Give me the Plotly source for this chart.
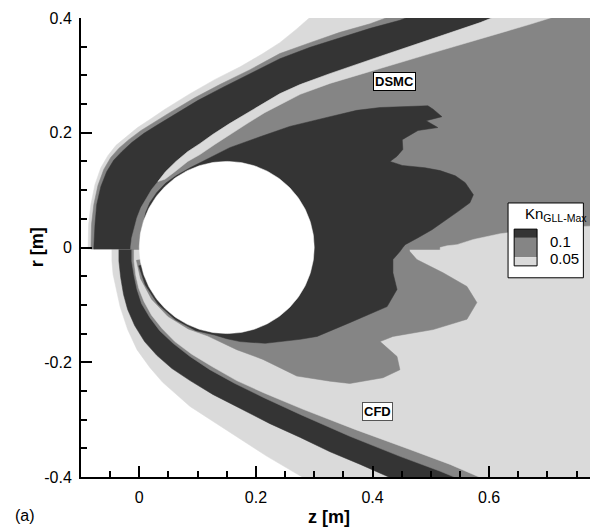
import numpy as np
import plotly.graph_objects as go

# ---------------- data (z [m], r [m]) ----------------
DARK = "#343434"
MED = "#858585"
LIGHT = "#dadada"

# Upper half (DSMC)
A_UP_Z = [-0.088, -0.087, -0.083, -0.076, -0.066, -0.054, -0.040, -0.023, -0.003, 0.018, 0.044, 0.087, 0.130, 0.173, 0.212, 0.241, 0.269, 0.296]
A_UP_R = [0, 0.040, 0.075, 0.110, 0.139, 0.160, 0.178, 0.193, 0.209, 0.223, 0.241, 0.268, 0.293, 0.315, 0.338, 0.357, 0.380, 0.404]

B_UP_Z = [-0.083, -0.082, -0.078, -0.071, -0.061, -0.049, -0.035, -0.018, 0.003, 0.025, 0.052, 0.095, 0.138, 0.190, 0.241, 0.293, 0.344, 0.396, 0.439]
B_UP_R = [0, 0.040, 0.075, 0.108, 0.136, 0.157, 0.173, 0.188, 0.204, 0.218, 0.235, 0.261, 0.284, 0.310, 0.338, 0.357, 0.375, 0.390, 0.406]

C_UP_Z = [-0.078, -0.076, -0.073, -0.066, -0.056, -0.044, -0.030, -0.013, 0.008, 0.030, 0.058, 0.100, 0.143, 0.193, 0.241, 0.293, 0.344, 0.396, 0.447, 0.473]
C_UP_R = [0, 0.040, 0.075, 0.106, 0.132, 0.152, 0.167, 0.183, 0.199, 0.213, 0.230, 0.256, 0.279, 0.305, 0.329, 0.349, 0.366, 0.382, 0.396, 0.406]

G_UP_Z = [-0.015, -0.013, -0.009, -0.004, 0.003, 0.011, 0.021]
G_UP_R = [0, 0.017, 0.035, 0.052, 0.070, 0.085, 0.101]

D_UP_Z = [0.032, 0.045, 0.063, 0.083, 0.104, 0.126, 0.155, 0.185, 0.215, 0.241, 0.276, 0.327, 0.413, 0.499, 0.585, 0.619]
D_UP_R = [0.115, 0.132, 0.150, 0.167, 0.181, 0.197, 0.216, 0.234, 0.253, 0.268, 0.284, 0.303, 0.333, 0.363, 0.392, 0.406]

E_UP_Z = [0.032, 0.044, 0.061, 0.083, 0.104, 0.130, 0.155, 0.185, 0.215, 0.241, 0.276, 0.327, 0.413, 0.499, 0.585, 0.670, 0.730]
E_UP_R = [0.115, 0.119, 0.132, 0.150, 0.162, 0.180, 0.197, 0.216, 0.235, 0.249, 0.267, 0.286, 0.312, 0.338, 0.364, 0.389, 0.408]

L_UP_Z = [0.516, 0.528, 0.545, 0.573, 0.619, 0.675, 0.722, 0.790]
L_UP_R = [0, 0.003, 0.005, 0.014, 0.024, 0.031, 0.035, 0.038]

F_UP_Z = [0.006, 0.011, 0.018, 0.030, 0.045, 0.063, 0.087, 0.121, 0.155, 0.207,
          0.258, 0.327, 0.373, 0.413, 0.470, 0.495, 0.504, 0.519, 0.492, 0.512,
          0.478, 0.451, 0.452, 0.442, 0.430, 0.451, 0.490, 0.516, 0.542, 0.559,
          0.573, 0.567, 0.547, 0.528, 0.502, 0.478, 0.456, 0.452]
F_UP_R = [0.038, 0.061, 0.078, 0.096, 0.112, 0.125, 0.139, 0.157, 0.174, 0.193,
          0.211, 0.228, 0.239, 0.244, 0.246, 0.247, 0.241, 0.228, 0.221, 0.209,
          0.204, 0.188, 0.171, 0.159, 0.150, 0.143, 0.139, 0.134, 0.125, 0.113,
          0.092, 0.078, 0.063, 0.049, 0.031, 0.017, 0.005, 0]

# Lower half (CFD)
A_LO_Z = [-0.047, -0.047, -0.045, -0.040, -0.033, -0.020, -0.004, 0.018, 0.040, 0.087, 0.155, 0.219, 0.281, 0.301]
A_LO_R = [0, -0.024, -0.047, -0.073, -0.103, -0.143, -0.178, -0.209, -0.235, -0.277, -0.322, -0.364, -0.401, -0.415]

C_LO_Z = [-0.035, -0.035, -0.032, -0.027, -0.020, -0.008, 0.009, 0.030, 0.056, 0.087, 0.126, 0.173, 0.224, 0.276, 0.327, 0.379, 0.430, 0.456]
C_LO_R = [0, -0.024, -0.052, -0.082, -0.108, -0.136, -0.164, -0.188, -0.211, -0.232, -0.256, -0.281, -0.307, -0.331, -0.356, -0.378, -0.401, -0.411]

D_LO_Z = [-0.013, -0.013, -0.009, -0.004, 0.004, 0.018, 0.035, 0.058, 0.087, 0.121, 0.164, 0.212, 0.276, 0.361, 0.447, 0.516, 0.559]
D_LO_R = [0, -0.024, -0.049, -0.073, -0.098, -0.122, -0.145, -0.167, -0.190, -0.213, -0.237, -0.261, -0.291, -0.329, -0.364, -0.390, -0.408]

E_LO_Z = [-0.009, -0.009, -0.006, -0.001, 0.008, 0.021, 0.039, 0.061, 0.090, 0.124, 0.167, 0.215, 0.281, 0.370, 0.464, 0.533, 0.585, 0.610]
E_LO_R = [0, -0.024, -0.049, -0.071, -0.094, -0.118, -0.141, -0.164, -0.186, -0.207, -0.232, -0.254, -0.282, -0.317, -0.352, -0.378, -0.401, -0.411]

M_LO_Z = [-0.005, 0.002, 0.021, 0.049, 0.084, 0.117, 0.167, 0.212, 0.270, 0.327, 0.361, 0.418, 0.447,
          0.442, 0.413, 0.435, 0.504, 0.562, 0.579, 0.562, 0.521, 0.476, 0.464, 0.461]
M_LO_R = [-0.022, -0.054, -0.090, -0.120, -0.142, -0.154, -0.178, -0.195, -0.224, -0.233, -0.237, -0.227, -0.213,
          -0.190, -0.164, -0.155, -0.143, -0.125, -0.096, -0.068, -0.044, -0.021, -0.007, 0]

K_LO_Z = [0.447, 0.435, 0.435, 0.442, 0.425, 0.361, 0.305, 0.276, 0.216, 0.173, 0.150,
          0.129, 0.097, 0.062, 0.032, 0.010, -0.001]
K_LO_R = [-0.007, -0.021, -0.044, -0.073, -0.103, -0.131, -0.155, -0.160, -0.167, -0.164, -0.159,
          -0.1525, -0.145, -0.126, -0.099, -0.065, -0.032]

BODY_Z, BODY_RAD = 0.15, 0.15

X_TICKS = [0, 0.2, 0.4, 0.6]
X_TICKTEXT = ["0", "0.2", "0.4", "0.6"]
Y_TICKS = [-0.4, -0.2, 0, 0.2, 0.4]
Y_TICKTEXT = ["-0.4", "-0.2", "0", "0.2", "0.4"]
LEVELS = ["0.1", "0.05"]

# ---------------- figure ----------------
EDGE_Z, EDGE_R = 0.9, 0.5
OV = 0.003     # fills run a hair past the symmetry line
DIP = 0.02     # light wake patch continues into the (also light) lower half
FONT = "Liberation Sans, Arial, Helvetica, sans-serif"

fig = go.Figure()


def add_poly(zs, rs, color):
    fig.add_trace(go.Scatter(x=list(zs), y=list(rs), mode="lines", fill="toself", fillcolor=color,
                             line=dict(width=0.5, color=color), hoverinfo="skip", showlegend=False))


def region(cz, cr, side):
    # area on the body side of a boundary curve, closed past the plot edges
    zs = [cz[0]] + list(cz) + [cz[-1], EDGE_Z, EDGE_Z]
    rs = [-side * OV] + list(cr) + [side * EDGE_R, side * EDGE_R, -side * OV]
    return zs, rs


# lower half shock layers
add_poly(*region(A_LO_Z, A_LO_R, -1), LIGHT)
add_poly(*region(C_LO_Z, C_LO_R, -1), DARK)
add_poly(*region(D_LO_Z, D_LO_R, -1), MED)
add_poly(*region(E_LO_Z, E_LO_R, -1), LIGHT)

# upper half shock layers
add_poly(*region(A_UP_Z, A_UP_R, 1), LIGHT)
add_poly(*region(B_UP_Z, B_UP_R, 1), MED)
add_poly(*region(C_UP_Z, C_UP_R, 1), DARK)
add_poly(*region(G_UP_Z + D_UP_Z, G_UP_R + D_UP_R, 1), MED)
add_poly(D_UP_Z + [D_UP_Z[-1], E_UP_Z[-1]] + E_UP_Z[::-1],
         D_UP_R + [EDGE_R, EDGE_R] + E_UP_R[::-1], LIGHT)
add_poly([L_UP_Z[0]] + L_UP_Z + [EDGE_Z, EDGE_Z],
         [-DIP] + L_UP_R + [L_UP_R[-1], -DIP], LIGHT)

# wake: medium blob (lower) and one dark region spanning both halves
add_poly(M_LO_Z + [M_LO_Z[-1], BODY_Z], M_LO_R + [OV, OV], MED)
add_poly(F_UP_Z + K_LO_Z + [BODY_Z], F_UP_R + K_LO_R + [0], DARK)

# body
th = np.linspace(0, 2 * np.pi, 240)
add_poly(BODY_Z + BODY_RAD * np.cos(th), BODY_RAD * np.sin(th), "white")

axis_common = dict(showline=True, linecolor="black", linewidth=2, mirror=False,
                   showgrid=False, zeroline=False,
                   ticks="inside", ticklen=11, tickwidth=2,
                   tickcolor="black", tickfont=dict(family=FONT, size=16, color="black"))

fig.update_xaxes(range=[-0.1, 0.773], tickmode="array", tickvals=X_TICKS, ticktext=X_TICKTEXT,
                 minor=dict(dtick=0.05, tick0=0, ticks="inside", ticklen=6, tickwidth=1.5,
                            tickcolor="black", showgrid=False),
                 ticklabelstandoff=5, **axis_common)
fig.update_yaxes(range=[-0.4, 0.4], tickmode="array", tickvals=Y_TICKS, ticktext=Y_TICKTEXT,
                 minor=dict(dtick=0.05, tick0=0, ticks="inside", ticklen=6, tickwidth=1.5,
                            tickcolor="black", showgrid=False),
                 ticklabelstandoff=4, **axis_common)

ann = []
ann.append(dict(x=0.487, y=-0.087, xref="paper", yref="paper", text="<b>z [m]</b>", showarrow=False,
                font=dict(family=FONT, size=18, color="black"), xanchor="center", yanchor="middle"))
ann.append(dict(x=-0.086, y=0.501, xref="paper", yref="paper", text="<b>r [m]</b>", showarrow=False,
                textangle=-90, font=dict(family=FONT, size=18, color="black"), xanchor="center", yanchor="middle"))
ann.append(dict(x=-0.110, y=-0.083, xref="paper", yref="paper", text="(a)", showarrow=False,
                font=dict(family=FONT, size=16, color="black"), xanchor="center", yanchor="middle"))
ann.append(dict(x=0.437, y=0.290, xref="x", yref="y", text="<b>DSMC</b>", showarrow=False,
                font=dict(family=FONT, size=13, color="black"), bgcolor="white",
                bordercolor="black", borderwidth=1, borderpad=1))
ann.append(dict(x=0.409, y=-0.285, xref="x", yref="y", text="<b>CFD</b>", showarrow=False,
                font=dict(family=FONT, size=13, color="black"), bgcolor="white",
                bordercolor="#555555", borderwidth=1, borderpad=1))

# legend (drawn)
shapes = [
    dict(type="rect", xref="paper", yref="paper", x0=0.839, x1=0.987, y0=0.434, y1=0.597,
         fillcolor="white", line=dict(color="black", width=1)),
    dict(type="rect", xref="paper", yref="paper", x0=0.851, x1=0.896, y0=0.521, y1=0.540,
         fillcolor=DARK, line=dict(width=0)),
    dict(type="rect", xref="paper", yref="paper", x0=0.851, x1=0.896, y0=0.479, y1=0.521,
         fillcolor=MED, line=dict(width=0)),
    dict(type="rect", xref="paper", yref="paper", x0=0.851, x1=0.896, y0=0.460, y1=0.479,
         fillcolor=LIGHT, line=dict(width=0)),
    dict(type="rect", xref="paper", yref="paper", x0=0.851, x1=0.896, y0=0.460, y1=0.540,
         fillcolor="rgba(0,0,0,0)", line=dict(color="black", width=1)),
]
ann.append(dict(x=0.868, y=0.571, xref="paper", yref="paper", text="Kn<sub>GLL-Max</sub>",
                showarrow=False, xanchor="left", yanchor="middle",
                font=dict(family=FONT, size=15, color="black")))
for lab, yy in zip(LEVELS, [0.512, 0.475]):
    ann.append(dict(x=0.9175, y=yy, xref="paper", yref="paper", text=lab, showarrow=False,
                    xanchor="left", yanchor="middle", font=dict(family=FONT, size=15, color="black")))

fig.update_layout(template="none", width=597, height=529, margin=dict(l=81, r=7, t=18, b=52),
                  plot_bgcolor="white", paper_bgcolor="white",
                  annotations=ann, shapes=shapes, showlegend=False,
                  font=dict(family=FONT, color="black"))

fig.write_html("out.html")
